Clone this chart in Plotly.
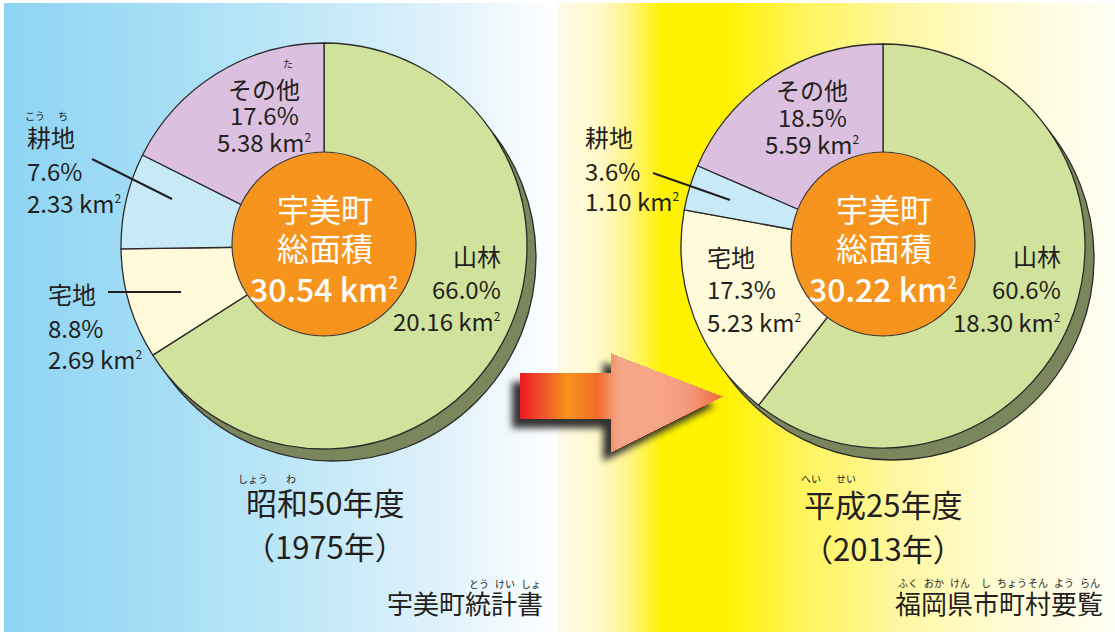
import numpy as np
import plotly.graph_objects as go

W, H = 1115, 632
FONT = "Noto Sans CJK JP"
INK = "#231f20"

# ---------------- data ----------------
categories = ["山林", "宅地", "耕地", "その他"]
area_1975 = [20.16, 2.69, 2.33, 5.38]
pct_1975 = [66.0, 8.8, 7.6, 17.6]
area_2013 = [18.30, 5.23, 1.10, 5.59]
pct_2013 = [60.6, 17.3, 3.6, 18.5]
totals = [30.54, 30.22]
year_labels = ["昭和50年度", "平成25年度"]
year_western = ["（1975年）", "（2013年）"]
sources = ["宇美町統計書", "福岡県市町村要覧"]
center_title = ["宇美町", "総面積"]
slice_colors = ["#d1e29c", "#fffad9", "#c7e9f8", "#dbc1df"]

# ---------------- layout constants ----------------
pies = [
    dict(cx=324, cy=246, r=203, area=area_1975, pct=pct_1975, total=totals[0]),
    dict(cx=883, cy=246, r=202, area=area_2013, pct=pct_2013, total=totals[1]),
]
SHADOW_DX, SHADOW_DY = 9, 12
HOLE_R = 92

label_pos = [
    {
        "山林": (503, [255, 288, 320], "right"),
        "宅地": (46, [293, 327, 358], "left"),
        "耕地": (25, [136, 170, 202], "left"),
        "その他": (264, [88, 114, 141], "center"),
    },
    {
        "山林": (1063, [255, 288, 321], "right"),
        "宅地": (705, [256, 288, 321], "left"),
        "耕地": (583, [136, 170, 200], "left"),
        "その他": (812, [89, 116, 143], "center"),
    },
]
leader_lines = [((92, 159), (172, 199)), ((108, 292), (181, 292)), ((653, 173), (730, 200))]


def domain(cx, cy, r):
    return dict(x=[(cx - r) / W, (cx + r) / W], y=[1 - (cy + r) / H, 1 - (cy - r) / H])


def km2(v, sup=12):
    return "%.2f km<sup><span style='font-size:%dpx'>2</span></sup>" % (v, sup)


fig = go.Figure()

# ---------------- background gradient ----------------
bg_stops = [(0, "#8dd4f3"), (120, "#9fdbf5"), (250, "#b5e4f7"), (400, "#d6eefa"),
            (500, "#eef8fd"), (540, "#fbfdff"), (556, "#ffffff"), (559, "#fffbe6"),
            (600, "#fff9c8"), (630, "#fff580"), (662, "#fff200"), (725, "#fff200"),
            (800, "#fff45a"), (900, "#fff7a2"), (1000, "#fffbd2"), (1115, "#fffef6")]
bgx = np.arange(0, W + 1, 1.0)
fig.add_trace(go.Heatmap(
    x=bgx, y=[0, H], z=[bgx, bgx], zmin=0, zmax=W, zsmooth="best",
    colorscale=[[p / W, c] for p, c in bg_stops], showscale=False, hoverinfo="skip"))


# ---------------- arrow (decoration) ----------------
def in_arrow(X, Y):
    body = (X >= 520) & (X <= 612) & (Y >= 373) & (Y <= 418)
    t_top = 353 + (X - 611) * (396 - 353) / (722 - 611)
    t_bot = 451 + (X - 612) * (396 - 451) / (722 - 612)
    head = (X >= 611) & (X <= 722) & (Y >= t_top) & (Y <= t_bot)
    return body | head


def box_blur(a, r):
    k = 2 * r + 1
    p = np.pad(a, ((0, 0), (r + 1, r)))
    c = np.cumsum(p, axis=1)
    a = (c[:, k:] - c[:, :-k]) / k
    p = np.pad(a, ((r + 1, r), (0, 0)))
    c = np.cumsum(p, axis=0)
    return (c[k:, :] - c[:-k, :]) / k


sx = np.arange(485, 745)
sy = np.arange(335, 485)
SX, SY = np.meshgrid(sx, sy)
sh = in_arrow(SX + 8, SY - 9).astype(float)
for _ in range(3):
    sh = box_blur(sh, 3)
fig.add_trace(go.Heatmap(
    x=sx, y=sy, z=sh.round(3).tolist(), zmin=0, zmax=1, zsmooth=False,
    colorscale=[[0, "rgba(40,40,40,0)"], [1, "rgba(40,40,40,0.95)"]],
    showscale=False, hoverinfo="skip"))

ax = np.arange(518, 725)
ay = np.arange(350, 455)
AX, AY = np.meshgrid(ax, ay)
amask = in_arrow(AX, AY)
az = [[float(AX[i, j]) if amask[i, j] else None for j in range(len(ax))] for i in range(len(ay))]
arrow_stops = [(520, "#ed1c24"), (545, "#f15a29"), (567, "#f7941d"), (597, "#f26a2a"),
               (618, "#f6a688"), (660, "#f6a587"), (687, "#f39a7c"), (713, "#f07850"),
               (722, "#ef6a40")]
fig.add_trace(go.Heatmap(
    x=ax, y=ay, z=az, zmin=520, zmax=722, zsmooth=False,
    colorscale=[[(p - 520) / 202, c] for p, c in arrow_stops],
    showscale=False, hoverinfo="skip"))

# ---------------- pies ----------------
shapes = []
annotations = []


def ann(text, x, y, size, color=INK, xanchor="center", weight="normal"):
    annotations.append(dict(
        text=text, x=x, y=y, xref="x", yref="y", showarrow=False,
        xanchor=xanchor, yanchor="middle",
        font=dict(family=FONT, size=size, color=color, weight=weight)))


for k, p in enumerate(pies):
    fig.add_trace(go.Pie(
        values=[1], labels=["shadow%d" % k], sort=False,
        marker=dict(colors=["#7b865c"], line=dict(color="#2b2b2b", width=1.3)),
        domain=domain(p["cx"] + SHADOW_DX, p["cy"] + SHADOW_DY, p["r"]),
        textinfo="none", hoverinfo="skip", showlegend=False))
    fig.add_trace(go.Pie(
        values=p["area"], labels=categories, sort=False, direction="clockwise", rotation=0,
        marker=dict(colors=slice_colors, line=dict(color="#2b2b2b", width=1.3)),
        domain=domain(p["cx"], p["cy"], p["r"]),
        textinfo="none", hoverinfo="label+percent", showlegend=False))
    shapes.append(dict(type="circle", xref="x", yref="y", layer="above",
                       x0=p["cx"] - HOLE_R, x1=p["cx"] + HOLE_R,
                       y0=p["cy"] - HOLE_R - 2, y1=p["cy"] + HOLE_R - 2,
                       fillcolor="#f7941d", line=dict(color="#3a3a3a", width=1.2)))
    ann(center_title[0], p["cx"] + 1, p["cy"] - 38, 32, "white")
    ann(center_title[1], p["cx"] + 1, p["cy"] + 1, 32, "white")
    ann(km2(p["total"], 17), p["cx"], p["cy"] + 42, 32, "white", weight=500)
    for i, cat in enumerate(categories):
        x, ys, xa = label_pos[k][cat]
        ann(cat, x, ys[0], 24, xanchor=xa)
        ann("%.1f%%" % p["pct"][i], x, ys[1], 24, xanchor=xa)
        ann(km2(p["area"][i]), x, ys[2], 24, xanchor=xa)
    ann(year_labels[k], p["cx"] + 1 - k, 501 + 2 * k, 31)
    ann(year_western[k], p["cx"] + 1 - k, 545 + 2 * k, 31)

ann(sources[0], 465, 602, 26)
ann(sources[1], 999, 602, 26)

ruby = [("こう", 35, 115), ("ち", 63, 115), ("た", 288, 63),
        ("しょう", 253, 478), ("わ", 291, 478),
        ("へい", 811, 478), ("せい", 846, 478),
        ("とう", 479, 583), ("けい", 505, 583), ("しょ", 531, 583),
        ("ふく", 908, 582), ("おか", 934, 582), ("けん", 960, 582), ("し", 986, 582),
        ("ちょう", 1012, 582), ("そん", 1038, 582), ("よう", 1064, 582), ("らん", 1090, 582)]
for t, x, y in ruby:
    ann(t, x, y, 10)

for (x0, y0), (x1, y1) in leader_lines:
    shapes.append(dict(type="line", xref="x", yref="y", layer="above",
                       x0=x0, y0=y0, x1=x1, y1=y1, line=dict(color=INK, width=2)))

shapes.append(dict(type="rect", xref="x", yref="y", layer="above", x0=0, x1=4, y0=0, y1=H,
                   fillcolor="white", line=dict(width=0)))
shapes.append(dict(type="rect", xref="x", yref="y", layer="above", x0=0, x1=W, y0=0, y1=3,
                   fillcolor="white", line=dict(width=0)))

fig.update_layout(
    width=W, height=H, margin=dict(l=0, r=0, t=0, b=0),
    paper_bgcolor="white", plot_bgcolor="white",
    xaxis=dict(range=[0, W], visible=False, fixedrange=True),
    yaxis=dict(range=[H, 0], visible=False, fixedrange=True),
    shapes=shapes, annotations=annotations, showlegend=False,
)

fig.write_html("out.html", config=dict(displayModeBar=False),
               post_script="document.body.style.margin='0';document.body.style.overflow='hidden';")
